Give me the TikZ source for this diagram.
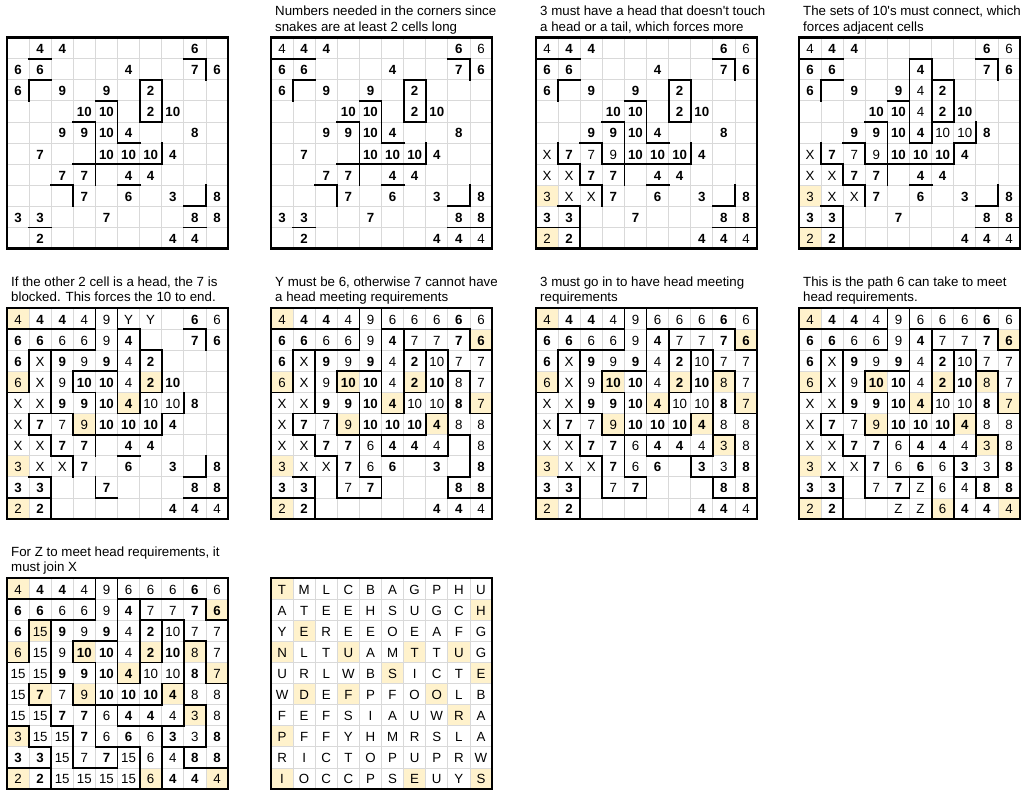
\documentclass[tikz,border=0pt]{standalone}
\usepackage{fontspec}
\setmainfont{Liberation Sans}
\usepackage{tikz}
\definecolor{hlcream}{HTML}{FFF2CC}
\definecolor{gridgray}{HTML}{D9D9D9}

\tikzset{
  hl/.style={fill=hlcream},
  gridline/.style={draw=gridgray, line width=0.8pt},
  wall/.style={line width=1.8pt, line cap=rect},
  frame/.style={line width=2.4pt},
  val/.style={anchor=base, yshift=-5.5pt, inner sep=0pt, font=\fontsize{13.3}{16}\selectfont},
  given/.style={val, font=\fontsize{13.3}{16}\selectfont\bfseries},
  caption/.style={anchor=base west, inner sep=0pt, font=\fontsize{13.3}{16}\selectfont}
}

% helpers for one 10x10 board (cell units)
\newcommand\hilite[1]{\foreach \c/\r in #1 {\fill[hl] (\c,\r) rectangle ++(1,1);}}
\newcommand\putcells[2]{\foreach \c/\r/\t in #2 {\node[#1] (\gid-\c-\r) at (\c+.5,\r+.5) {\t};}}
\newcommand\hwalls[1]{\foreach \c/\r in #1 {\draw[wall] (\c,\r) -- ++(1,0);}}
\newcommand\vwalls[1]{\foreach \c/\r in #1 {\draw[wall] (\c,\r) -- ++(0,1);}}
\newcommand\board{\foreach \i in {1,...,9} {\draw[gridline] (\i,0) -- (\i,10); \draw[gridline] (0,\i) -- (10,\i);}}
\newcommand\frameit{\draw[frame] (0,0) rectangle (10,10);}

% given clues (bold)
\newcommand\givens{1/0/4, 2/0/4, 8/0/6, 0/1/6, 1/1/6, 5/1/4, 8/1/7, 9/1/6,
  0/2/6, 2/2/9, 4/2/9, 6/2/2, 3/3/10, 4/3/10, 6/3/2, 7/3/10,
  2/4/9, 3/4/9, 4/4/10, 5/4/4, 8/4/8, 1/5/7, 4/5/10, 5/5/10, 6/5/10, 7/5/4,
  2/6/7, 3/6/7, 5/6/4, 6/6/4, 3/7/7, 5/7/6, 7/7/3, 9/7/8,
  0/8/3, 1/8/3, 4/8/7, 8/8/8, 9/8/8, 1/9/2, 7/9/4, 8/9/4}
% filled in step by step
\newcommand\corners{0/0/4, 9/0/6, 9/9/4}
\newcommand\xsA{0/5/X, 0/6/X, 1/6/X, 1/7/X, 2/7/X}
\newcommand\valsC{2/5/7, 3/5/9, 0/7/3, 0/9/2}
\newcommand\valsD{5/2/4, 5/3/4, 6/4/10, 7/4/10}
\newcommand\valsE{3/0/4, 4/0/9, 2/1/6, 3/1/6, 4/1/9, 3/2/9, 0/3/6, 2/3/9}
\newcommand\xsE{1/2/X, 1/3/X, 0/4/X, 1/4/X}
\newcommand\ys{5/0/Y, 6/0/Y}
\newcommand\valsF{5/0/6, 6/0/6, 7/0/6, 6/1/7, 7/1/7, 7/2/10, 8/2/7, 9/2/7,
  8/3/8, 9/3/7, 9/4/7, 8/5/8, 9/5/8, 4/6/6, 7/6/4, 9/6/8, 4/7/6, 3/8/7}
\newcommand\valsG{8/6/3, 8/7/3}
\newcommand\valsH{6/7/6, 6/8/6, 7/8/4, 6/9/6}
\newcommand\zs{5/8/Z, 4/9/Z, 5/9/Z}
\newcommand\valsI{1/2/15, 1/3/15, 0/4/15, 1/4/15, 0/5/15, 0/6/15, 1/6/15, 1/7/15,
  2/7/15, 2/8/15, 5/8/15, 2/9/15, 3/9/15, 4/9/15, 5/9/15}
% highlighted heads/tails
\newcommand\hlC{0/7, 0/9}
\newcommand\hlE{0/0, 0/3, 6/3, 5/4, 3/5}
\newcommand\hlF{9/1, 3/3, 9/4, 7/5}
\newcommand\hlG{8/3, 8/6}
\newcommand\hlH{6/9, 9/9}
\newcommand\hlI{1/2, 1/5}
% walls: h = top edge of cell, v = left edge of cell
\newcommand\hA{1/1, 8/1, 1/2, 6/2, 4/3, 3/4, 6/4, 5/5, 3/6, 4/6, 5/6, 6/6, 2/7, 5/7, 8/8, 1/9, 8/9}
\newcommand\vA{9/1, 1/2, 6/2, 7/2, 5/3, 6/3, 7/3, 4/4, 5/4, 4/5, 7/5, 4/6, 3/7, 9/7}
\newcommand\hB{0/1, 9/9}
\newcommand\hC{2/5, 1/6, 1/8, 0/9}
\newcommand\vC{1/5, 3/5, 2/6, 2/8, 2/9}
\newcommand\hD{5/1, 7/5}
\newcommand\vD{5/1, 5/2, 6/1, 6/4, 8/4}
\newcommand\hE{2/1, 3/1, 2/2, 3/2, 3/3, 0/4, 1/5, 4/9}
\newcommand\vE{4/0, 5/0, 4/1, 2/2, 1/3, 2/3, 3/3, 2/4}
\newcommand\vEonly{4/8}
\newcommand\hF{6/1, 7/1, 7/2, 9/2, 8/3, 9/5, 8/6, 6/7, 7/7, 4/8, 3/9}
\newcommand\vF{8/2, 8/3, 9/3, 9/4, 8/5, 5/6, 8/6, 9/6, 4/7, 3/8, 5/8, 8/8}
\newcommand\hG{7/8}
\newcommand\vG{7/7}
\newcommand\hH{5/8}
\newcommand\vH{6/8, 7/8, 6/9, 7/9}
\newcommand\hI{0/7}
\newcommand\vI{1/7}

\begin{document}
\begin{tikzpicture}
\useasboundingbox (0pt,0pt) rectangle (1028pt,-795pt);

% ---- row 1 ----
\begin{scope}[shift={(7pt,-37.5pt)}, x=22.1pt, y=-21.1pt]
  \def\gid{ga}
  \board
  \putcells{given}\givens
  \hwalls\hA \vwalls\vA
  \frameit
\end{scope}

\node[caption] (capb1) at (275pt,-15.5pt) {Numbers needed in the corners since};
\node[caption] (capb2) at (275pt,-31.2pt) {snakes are at least 2 cells long};
\begin{scope}[shift={(271pt,-37.5pt)}, x=22.1pt, y=-21.1pt]
  \def\gid{gb}
  \board
  \putcells{given}\givens
  \putcells{val}\corners
  \hwalls\hA \vwalls\vA \hwalls\hB
  \frameit
\end{scope}

\node[caption] (capc1) at (540pt,-15.5pt) {3 must have a head that doesn\textquotesingle t touch};
\node[caption] (capc2) at (540pt,-31.2pt) {a head or a tail, which forces more};
\begin{scope}[shift={(536pt,-37.5pt)}, x=22.1pt, y=-21.1pt]
  \def\gid{gc}
  \hilite\hlC
  \board
  \putcells{given}\givens
  \putcells{val}\corners \putcells{val}\xsA \putcells{val}\valsC
  \hwalls\hA \vwalls\vA \hwalls\hB \hwalls\hC \vwalls\vC
  \frameit
\end{scope}

\node[caption] (capd1) at (803pt,-15.5pt) {The sets of 10\textquotesingle s must connect, which};
\node[caption] (capd2) at (803pt,-31.2pt) {forces adjacent cells};
\begin{scope}[shift={(799pt,-37.5pt)}, x=22.1pt, y=-21.1pt]
  \def\gid{gd}
  \hilite\hlC
  \board
  \putcells{given}\givens
  \putcells{val}\corners \putcells{val}\xsA \putcells{val}\valsC \putcells{val}\valsD
  \hwalls\hA \vwalls\vA \hwalls\hB \hwalls\hC \vwalls\vC \hwalls\hD \vwalls\vD
  \frameit
\end{scope}

% ---- row 2 ----
\node[caption] (cape1) at (11pt,-286pt) {If the other 2 cell is a head, the 7 is};
\node[caption] (cape2) at (11pt,-301.7pt) {blocked. This forces the 10 to end.};
\begin{scope}[shift={(7pt,-308pt)}, x=22.1pt, y=-21.1pt]
  \def\gid{ge}
  \hilite\hlC \hilite\hlE
  \board
  \putcells{given}\givens
  \putcells{val}\corners \putcells{val}\xsA \putcells{val}\valsC \putcells{val}\valsD
  \putcells{val}\valsE \putcells{val}\xsE \putcells{val}\ys
  \hwalls\hA \vwalls\vA \hwalls\hB \hwalls\hC \vwalls\vC \hwalls\hD \vwalls\vD
  \hwalls\hE \vwalls\vE \vwalls\vEonly
  \frameit
\end{scope}

\node[caption] (capf1) at (275pt,-286pt) {Y must be 6, otherwise 7 cannot have};
\node[caption] (capf2) at (275pt,-301.7pt) {a head meeting requirements};
\begin{scope}[shift={(271pt,-308pt)}, x=22.1pt, y=-21.1pt]
  \def\gid{gf}
  \hilite\hlC \hilite\hlE \hilite\hlF
  \board
  \putcells{given}\givens
  \putcells{val}\corners \putcells{val}\xsA \putcells{val}\valsC \putcells{val}\valsD
  \putcells{val}\valsE \putcells{val}\xsE \putcells{val}\valsF
  \hwalls\hA \vwalls\vA \hwalls\hB \hwalls\hC \vwalls\vC \hwalls\hD \vwalls\vD
  \hwalls\hE \vwalls\vE \hwalls\hF \vwalls\vF
  \frameit
\end{scope}

\node[caption] (capg1) at (540pt,-286pt) {3 must go in to have head meeting};
\node[caption] (capg2) at (540pt,-301.7pt) {requirements};
\begin{scope}[shift={(536pt,-308pt)}, x=22.1pt, y=-21.1pt]
  \def\gid{gg}
  \hilite\hlC \hilite\hlE \hilite\hlF \hilite\hlG
  \board
  \putcells{given}\givens
  \putcells{val}\corners \putcells{val}\xsA \putcells{val}\valsC \putcells{val}\valsD
  \putcells{val}\valsE \putcells{val}\xsE \putcells{val}\valsF \putcells{val}\valsG
  \hwalls\hA \vwalls\vA \hwalls\hB \hwalls\hC \vwalls\vC \hwalls\hD \vwalls\vD
  \hwalls\hE \vwalls\vE \hwalls\hF \vwalls\vF \hwalls\hG \vwalls\vG
  \frameit
\end{scope}

\node[caption] (caph1) at (803pt,-286pt) {This is the path 6 can take to meet};
\node[caption] (caph2) at (803pt,-301.7pt) {head requirements.};
\begin{scope}[shift={(799pt,-308pt)}, x=22.1pt, y=-21.1pt]
  \def\gid{gh}
  \hilite\hlC \hilite\hlE \hilite\hlF \hilite\hlG \hilite\hlH
  \board
  \putcells{given}\givens
  \putcells{val}\corners \putcells{val}\xsA \putcells{val}\valsC \putcells{val}\valsD
  \putcells{val}\valsE \putcells{val}\xsE \putcells{val}\valsF \putcells{val}\valsG
  \putcells{val}\valsH \putcells{val}\zs
  \hwalls\hA \vwalls\vA \hwalls\hB \hwalls\hC \vwalls\vC \hwalls\hD \vwalls\vD
  \hwalls\hE \vwalls\vE \hwalls\hF \vwalls\vF \hwalls\hG \vwalls\vG \hwalls\hH \vwalls\vH
  \frameit
\end{scope}

% ---- row 3 ----
\node[caption] (capi1) at (11pt,-556pt) {For Z to meet head requirements, it};
\node[caption] (capi2) at (11pt,-571.7pt) {must join X};
\begin{scope}[shift={(7pt,-578pt)}, x=22.1pt, y=-21.1pt]
  \def\gid{gi}
  \hilite\hlC \hilite\hlE \hilite\hlF \hilite\hlG \hilite\hlH \hilite\hlI
  \board
  \putcells{given}\givens
  \putcells{val}\corners \putcells{val}\valsC \putcells{val}\valsD \putcells{val}\valsE
  \putcells{val}\valsF \putcells{val}\valsG \putcells{val}\valsH \putcells{val}\valsI
  \hwalls\hA \vwalls\vA \hwalls\hB \hwalls\hC \vwalls\vC \hwalls\hD \vwalls\vD
  \hwalls\hE \vwalls\vE \hwalls\hF \vwalls\vF \hwalls\hG \vwalls\vG \hwalls\hH \vwalls\vH
  \hwalls\hI \vwalls\vI
  \frameit
\end{scope}

% letters read off the highlighted cells
\begin{scope}[shift={(271pt,-578pt)}, x=22.1pt, y=-21.1pt]
  \hilite\hlC \hilite\hlE \hilite\hlF \hilite\hlG \hilite\hlH \hilite\hlI
  \board
  \foreach \row [count=\r from 0] in {{T,M,L,C,B,A,G,P,H,U}, {A,T,E,E,H,S,U,G,C,H},
      {Y,E,R,E,E,O,E,A,F,G}, {N,L,T,U,A,M,T,T,U,G}, {U,R,L,W,B,S,I,C,T,E},
      {W,D,E,F,P,F,O,O,L,B}, {F,E,F,S,I,A,U,W,R,A}, {P,F,F,Y,H,M,R,S,L,A},
      {R,I,C,T,O,P,U,P,R,W}, {I,O,C,C,P,S,E,U,Y,S}} {
    \foreach \t [count=\c from 0] in \row {
      \node[val] (w-\c-\r) at (\c+.5,\r+.5) {\t};
    }
  }
  \frameit
\end{scope}
\end{tikzpicture}
\end{document}
